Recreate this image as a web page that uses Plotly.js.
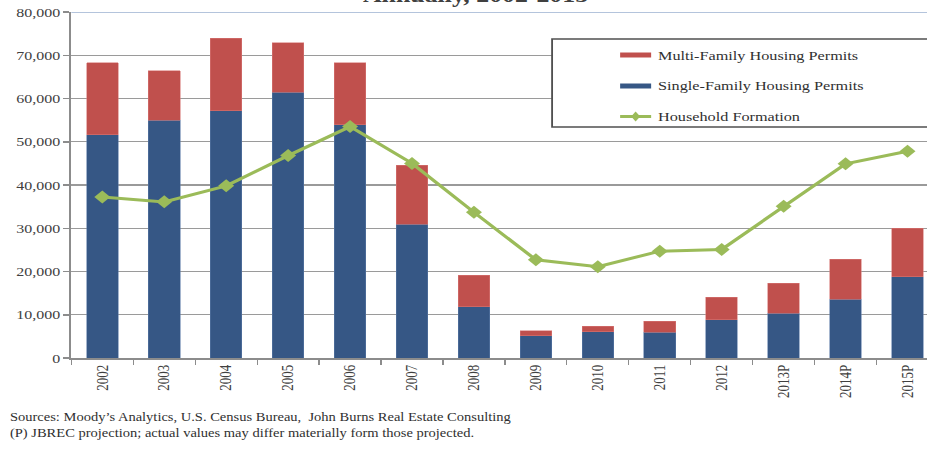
<!DOCTYPE html>
<html>
<head>
<meta charset="utf-8">
<script src="https://cdn.plot.ly/plotly-3.0.1.min.js"></script>
<style>
  html, body { margin: 0; padding: 0; width: 927px; height: 450px; overflow: hidden; background: #fff; }
  #chart { position: absolute; left: 0; top: 0; transform: scaleX(1.23); transform-origin: 0 0; }
</style>
</head>
<body>
<div id="chart"></div>
<script>
// ---- data ----
const years = ["2002","2003","2004","2005","2006","2007","2008","2009","2010","2011","2012","2013P","2014P","2015P"];
const singleFamily = [51600, 55000, 57200, 61500, 53900, 30900, 11900, 5100, 6100, 6000, 8900, 10300, 13600, 18800];
const multiFamily  = [16700, 11400, 16700, 11400, 14400, 13700, 7200, 1200, 1300, 2500, 5200, 7000, 9200, 11200];
const household    = [37200, 36100, 39800, 46800, 53500, 45000, 33700, 22700, 21100, 24700, 25100, 35100, 44900, 47800];
const seriesNames  = ["Multi-Family Housing Permits", "Single-Family Housing Permits", "Household Formation"];
const titleLine    = "Annually, 2002-2015";
const sourceLines  = ["Sources: Moody\u2019s Analytics, U.S. Census Bureau,  John Burns Real Estate Consulting",
                      "(P) JBREC projection; actual values may differ materially form those projected."];

// ---- geometry (page pixels -> inner pixels via horizontal stretch) ----
const S = 1.23;
const W = 780, H = 450;
const mL = 71.5 / S, mR = W - 938.2 / S, mT = 12, mB = 450 - 358;
const plotW = W - mL - mR, plotH = H - mT - mB;
const px = pX => (pX / S - mL) / plotW;      // page x -> paper x
const py = pY => (358 - pY) / plotH;          // page y -> paper y

const FONT = "Liberation Serif, Times New Roman, serif";
const blue = "#365785", red = "#c0504d", green = "#9bbb59";

const traces = [
  { type: "bar", x: years, y: singleFamily, name: seriesNames[1], marker: { color: blue, line: { color: "#5b7aa6", width: 0.5 } } },
  { type: "bar", x: years, y: multiFamily, name: seriesNames[0], marker: { color: red, line: { color: "#d77a77", width: 0.5 } } },
  { type: "scatter", mode: "lines+markers", x: years, y: household, name: seriesNames[2],
    line: { color: green, width: 3 }, marker: { symbol: "diamond", size: 10, color: green } }
];

// legend drawn as shapes + annotations
const shapes = [
  { type: "line", xref: "paper", yref: "y", x0: 0, x1: 1, y0: 80000, y1: 80000, line: { color: "#b4c4dc", width: 2 }, layer: "above" },
  { type: "rect", xref: "paper", yref: "paper", x0: px(552), x1: px(934), y0: py(127), y1: py(39),
    line: { color: "#505050", width: 1.5 }, fillcolor: "#ffffff", layer: "above" },
  { type: "rect", xref: "paper", yref: "paper", x0: px(620), x1: px(651), y0: py(57.5), y1: py(52.5), line: { width: 0 }, fillcolor: red, layer: "above" },
  { type: "rect", xref: "paper", yref: "paper", x0: px(620), x1: px(651), y0: py(88.5), y1: py(83.5), line: { width: 0 }, fillcolor: blue, layer: "above" },
  { type: "line", xref: "paper", yref: "paper", x0: px(620), x1: px(651), y0: py(116.5), y1: py(116.5), line: { color: green, width: 3 }, layer: "above" },
  { type: "path", xref: "paper", yref: "paper", layer: "above", fillcolor: green, line: { width: 0 },
    path: (() => { const cx = px(635.5), cy = py(116.5), dx = 4.5 / S / plotW, dy = 5 / plotH;
      return `M ${cx - dx} ${cy} L ${cx} ${cy + dy} L ${cx + dx} ${cy} L ${cx} ${cy - dy} Z`; })() }
];

const annotations = [
  { xref: "paper", yref: "paper", x: px(655), y: py(55), xanchor: "left", yanchor: "middle", showarrow: false,
    text: seriesNames[0], font: { family: FONT, size: 13.2, color: "#303030" } },
  { xref: "paper", yref: "paper", x: px(655), y: py(86), xanchor: "left", yanchor: "middle", showarrow: false,
    text: seriesNames[1], font: { family: FONT, size: 13.2, color: "#303030" } },
  { xref: "paper", yref: "paper", x: px(655), y: py(116.5), xanchor: "left", yanchor: "middle", showarrow: false,
    text: seriesNames[2], font: { family: FONT, size: 13.2, color: "#303030" } },
  { xref: "paper", yref: "paper", x: px(8), y: py(417), xanchor: "left", yanchor: "middle", showarrow: false,
    text: sourceLines[0], font: { family: FONT, size: 11.8, color: "#303030" } },
  { xref: "paper", yref: "paper", x: px(8), y: py(433), xanchor: "left", yanchor: "middle", showarrow: false,
    text: sourceLines[1], font: { family: FONT, size: 11.8, color: "#303030" } },
  { xref: "paper", yref: "paper", x: px(475), y: py(8.7), xanchor: "center", yanchor: "bottom", showarrow: false,
    text: "<b>" + titleLine + "</b>", font: { family: FONT, size: 21, color: "#404040" } }
];

const layout = {
  width: W, height: H, autosize: false,
  margin: { l: mL, r: mR, t: mT, b: mB, pad: 0 },
  paper_bgcolor: "#ffffff", plot_bgcolor: "#ffffff",
  barmode: "stack", bargap: 0.49,
  showlegend: false,
  font: { family: FONT, size: 13, color: "#404040" },
  xaxis: {
    type: "category", range: [-0.5, 13.5], tickangle: -90,
    showline: true, linecolor: "#8c8c8c", linewidth: 1.5,
    ticks: "outside", tickson: "boundaries", ticklen: 5, tickcolor: "#8c8c8c", tickwidth: 1,
    showgrid: false, zeroline: false, fixedrange: true,
    tickfont: { family: FONT, size: 13, color: "#404040" }
  },
  yaxis: {
    range: [0, 80000], dtick: 10000, tick0: 0, tickformat: ",",
    showline: true, linecolor: "#8c8c8c", linewidth: 1.5,
    ticks: "outside", ticklen: 5, tickcolor: "#8c8c8c", tickwidth: 1.5,
    showgrid: true, gridcolor: "#9a9a9a", gridwidth: 1.3, zeroline: false, fixedrange: true,
    tickfont: { family: FONT, size: 13, color: "#404040" }
  },
  shapes: shapes,
  annotations: annotations
};

Plotly.newPlot("chart", traces, layout, { staticPlot: true, displayModeBar: false });
</script>
</body>
</html>
